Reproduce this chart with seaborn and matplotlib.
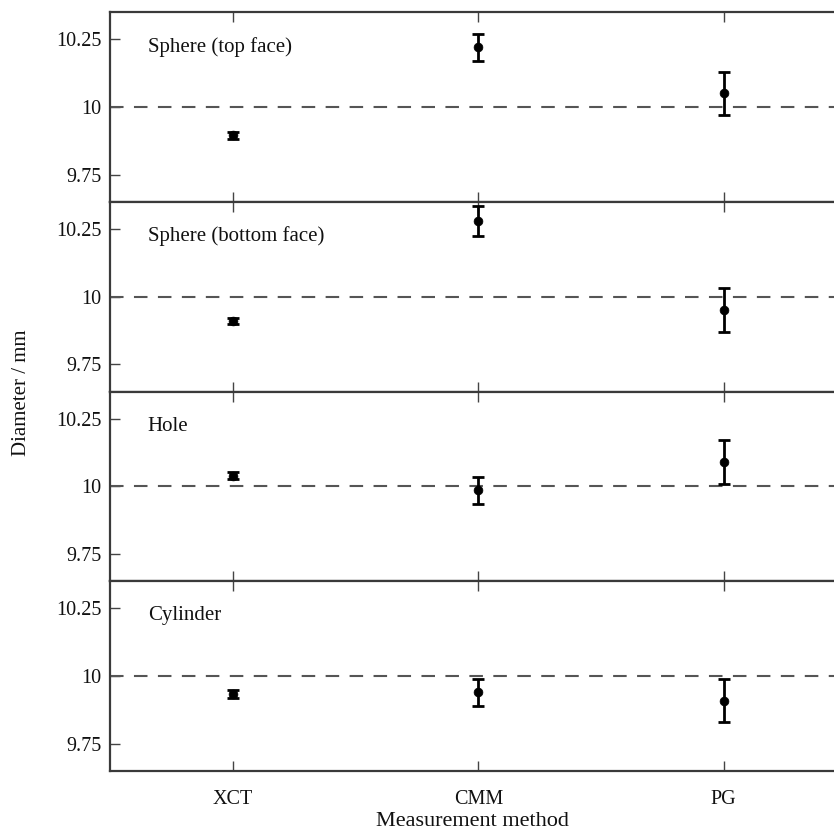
import matplotlib
matplotlib.use("Agg")
import matplotlib.pyplot as plt
import seaborn as sns
import pandas as pd

methods = ["XCT", "CMM", "PG"]
panels = ["Sphere (top face)", "Sphere (bottom face)", "Hole", "Cylinder"]
means = {
    "Sphere (top face)": [9.895, 10.22, 10.05],
    "Sphere (bottom face)": [9.91, 10.28, 9.95],
    "Hole": [10.04, 9.985, 10.09],
    "Cylinder": [9.935, 9.94, 9.91],
}
errs = {
    "Sphere (top face)": [0.012, 0.05, 0.08],
    "Sphere (bottom face)": [0.012, 0.055, 0.08],
    "Hole": [0.012, 0.05, 0.08],
    "Cylinder": [0.015, 0.05, 0.08],
}
nominal = 10.0
yticks = [9.75, 10.0, 10.25]
ytick_labels = ["9.75", "10", "10.25"]

sns.set_theme(style="white")
plt.rcParams["font.family"] = ["Liberation Serif", "DejaVu Serif"]

W, H = 834, 832
fig = plt.figure(figsize=(W / 100, H / 100), dpi=100)
left, right = 110 / W, 1.0
top, bottom = 1 - 12 / H, 1 - 771 / H
ph = (top - bottom) / 4

spine_col = "#3a3a3a"
fs_tick = 14.5
fs_lab = 15
axes = []
for i, name in enumerate(panels):
    ax = fig.add_axes([left, top - (i + 1) * ph, right - left, ph])
    axes.append(ax)
    df = pd.DataFrame({"method": methods, "mean": means[name], "err": errs[name]})
    ax.axhline(nominal, color="#555555", lw=1.5, ls=(0, (6.5, 5)), zorder=1)
    ax.errorbar(range(len(methods)), df["mean"], yerr=df["err"], fmt="none",
                ecolor="black", elinewidth=2, capsize=4, capthick=2, zorder=2)
    sns.scatterplot(data=df, x="method", y="mean", ax=ax, color="black", s=40,
                    edgecolor="black", zorder=3, legend=False)
    ax.set_xlim(-0.502, 2.45)
    ax.set_ylim(9.65, 10.35)
    ax.set_yticks(yticks)
    ax.set_yticklabels(ytick_labels, fontsize=fs_tick)
    ax.set_xticks(range(len(methods)))
    ax.text(-0.348, 10.222, name, fontsize=fs_lab, va="center", ha="left", color="#111111")
    ax.set_xlabel("")
    ax.set_ylabel("")
    for s in ["top", "bottom", "left"]:
        ax.spines[s].set_color(spine_col)
        ax.spines[s].set_linewidth(1.6)
    ax.spines["right"].set_visible(False)
    ax.tick_params(axis="both", direction="in", length=7, width=1, color="#444444",
                   left=True, bottom=True, top=True, right=False, labelsize=fs_tick,
                   labelcolor="#111111", pad=6)
    if i < 3:
        ax.set_xticklabels([])
    else:
        ax.set_xticklabels(methods, fontsize=fs_tick)
        ax.tick_params(axis="x", pad=14)

fig.text(472 / W, 1 - 821 / H, "Measurement method", fontsize=16,
         va="center", ha="center", color="#111111")
fig.text(22 / W, 1 - 393 / H, "Diameter / mm", rotation=90, fontsize=fs_lab,
         va="center", ha="center", color="#111111")

fig.savefig("out.png", dpi=100)
